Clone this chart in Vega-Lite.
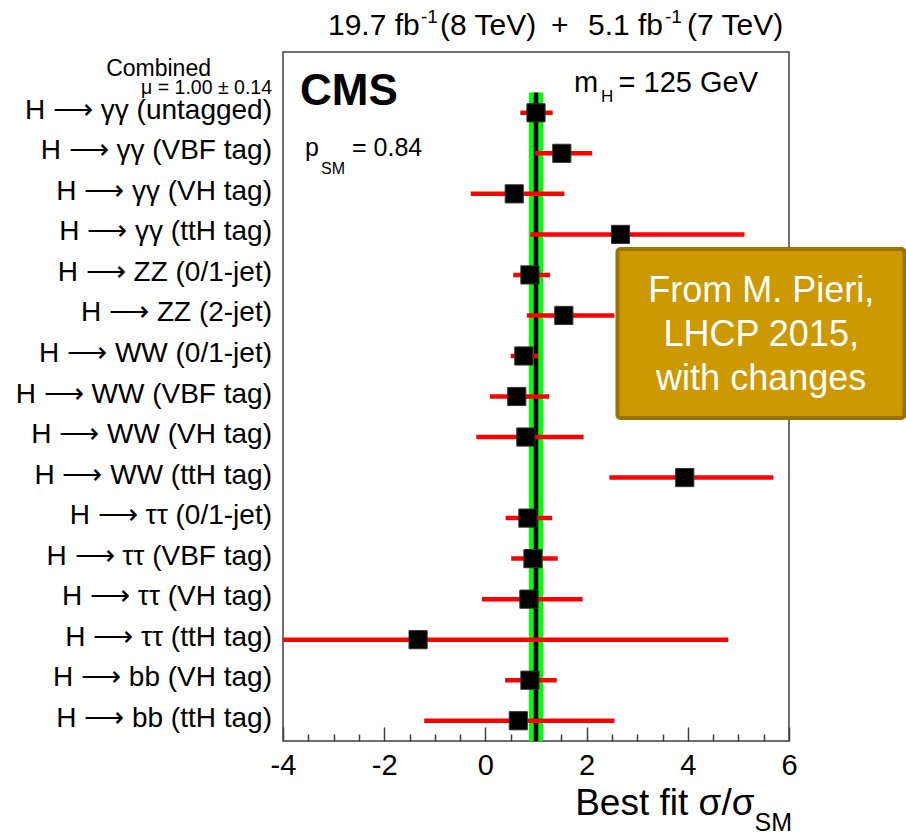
{
  "$schema": "https://vega.github.io/schema/vega-lite/v6.json",
  "width": 506,
  "height": 689,
  "autosize": {"type": "none"},
  "padding": {"left": 283, "top": 52, "right": 117, "bottom": 92},
  "background": "white",
  "config": {
    "font": "Liberation Sans",
    "view": {"stroke": "#404040", "strokeWidth": 1.5},
    "text": {"color": "black", "baseline": "alphabetic"}
  },
  "datasets": {
    "channels": [
      {"channel": "H ⟶ γγ (untagged)", "mu": 1.00, "lo": 0.69, "hi": 1.33},
      {"channel": "H ⟶ γγ (VBF tag)", "mu": 1.51, "lo": 0.98, "hi": 2.11},
      {"channel": "H ⟶ γγ (VH tag)", "mu": 0.57, "lo": -0.29, "hi": 1.56},
      {"channel": "H ⟶ γγ (ttH tag)", "mu": 2.67, "lo": 0.89, "hi": 5.12},
      {"channel": "H ⟶ ZZ (0/1-jet)", "mu": 0.88, "lo": 0.55, "hi": 1.28},
      {"channel": "H ⟶ ZZ (2-jet)", "mu": 1.55, "lo": 0.82, "hi": 2.55},
      {"channel": "H ⟶ WW (0/1-jet)", "mu": 0.76, "lo": 0.50, "hi": 1.04},
      {"channel": "H ⟶ WW (VBF tag)", "mu": 0.62, "lo": 0.09, "hi": 1.26},
      {"channel": "H ⟶ WW (VH tag)", "mu": 0.80, "lo": -0.18, "hi": 1.94},
      {"channel": "H ⟶ WW (ttH tag)", "mu": 3.94, "lo": 2.45, "hi": 5.69},
      {"channel": "H ⟶ ττ (0/1-jet)", "mu": 0.84, "lo": 0.40, "hi": 1.32},
      {"channel": "H ⟶ ττ (VBF tag)", "mu": 0.94, "lo": 0.51, "hi": 1.43},
      {"channel": "H ⟶ ττ (VH tag)", "mu": 0.86, "lo": -0.07, "hi": 1.92},
      {"channel": "H ⟶ ττ (ttH tag)", "mu": -1.33, "lo": -6.8, "hi": 4.80},
      {"channel": "H ⟶ bb (VH tag)", "mu": 0.88, "lo": 0.39, "hi": 1.41},
      {"channel": "H ⟶ bb (ttH tag)", "mu": 0.65, "lo": -1.21, "hi": 2.55}
    ],
    "combined": [
      {"mu": 1.00, "lo": 0.86, "hi": 1.14}
    ]
  },
  "resolve": {"axis": {"x": "independent"}},
  "layer": [
    {
      "data": {"name": "channels"},
      "mark": {"type": "text", "fontSize": 28, "align": "right", "dx": -11, "dy": 6},
      "encoding": {
        "text": {"field": "channel"},
        "x": {"datum": -4, "scale": {"domain": [-4, 6], "nice": false, "zero": false}, "axis": null},
        "y": {
          "field": "channel", "type": "nominal",
          "scale": {
            "type": "band",
            "domain": [" ", "H ⟶ γγ (untagged)", "H ⟶ γγ (VBF tag)", "H ⟶ γγ (VH tag)", "H ⟶ γγ (ttH tag)",
                       "H ⟶ ZZ (0/1-jet)", "H ⟶ ZZ (2-jet)", "H ⟶ WW (0/1-jet)", "H ⟶ WW (VBF tag)",
                       "H ⟶ WW (VH tag)", "H ⟶ WW (ttH tag)", "H ⟶ ττ (0/1-jet)", "H ⟶ ττ (VBF tag)",
                       "H ⟶ ττ (VH tag)", "H ⟶ ττ (ttH tag)", "H ⟶ bb (VH tag)", "H ⟶ bb (ttH tag)"],
            "paddingInner": 0, "paddingOuter": 0
          },
          "axis": null
        }
      }
    },
    {
      "data": {"name": "combined"},
      "mark": {"type": "rect", "color": "#00ff00"},
      "encoding": {
        "x": {"field": "lo", "type": "quantitative", "axis": null},
        "x2": {"field": "hi"},
        "y": {"datum": "H ⟶ γγ (untagged)", "bandPosition": 0, "axis": null},
        "y2": {"datum": "H ⟶ bb (ttH tag)", "bandPosition": 1}
      }
    },
    {
      "data": {"name": "combined"},
      "mark": {"type": "rule", "color": "black", "strokeWidth": 4.5},
      "encoding": {
        "x": {"field": "mu", "type": "quantitative", "axis": null},
        "y": {"datum": "H ⟶ γγ (untagged)", "bandPosition": 0, "axis": null},
        "y2": {"datum": "H ⟶ bb (ttH tag)", "bandPosition": 1}
      }
    },
    {
      "data": {"name": "channels"},
      "mark": {"type": "rule", "color": "#ff0000", "strokeWidth": 4.5, "clip": true},
      "encoding": {
        "x": {
          "field": "lo", "type": "quantitative",
          "axis": {
            "orient": "bottom",
            "values": [-3.5, -3, -2.5, -1.5, -1, -0.5, 0.5, 1, 1.5, 2.5, 3, 3.5, 4.5, 5, 5.5],
            "tickSize": -7, "tickWidth": 1.5, "tickColor": "#404040",
            "labels": false, "domain": false, "grid": false, "title": null
          }
        },
        "x2": {"field": "hi"},
        "y": {"field": "channel", "type": "nominal", "axis": null}
      }
    },
    {
      "data": {"name": "channels"},
      "mark": {"type": "point", "shape": "square", "filled": true, "size": 330, "color": "black", "stroke": "#333333", "strokeWidth": 1, "opacity": 1},
      "encoding": {
        "x": {
          "field": "mu", "type": "quantitative",
          "axis": {
            "orient": "bottom",
            "values": [-4, -2, 0, 2, 4, 6],
            "labelExpr": "replace(datum.label, '−', '-')",
            "tickSize": -14, "tickWidth": 1.5, "tickColor": "#404040",
            "domain": false, "grid": false,
            "labelFontSize": 29, "labelColor": "black", "labelPadding": 24, "labelFlush": false,
            "title": "Best fit σ/σ",
            "titleFontSize": 37, "titleFontWeight": "normal", "titleColor": "black",
            "titleAlign": "right", "titleBaseline": "alphabetic",
            "titleX": 471, "titleY": 73
          }
        },
        "y": {"field": "channel", "type": "nominal", "axis": null}
      }
    },
    {
      "data": {"name": "combined"},
      "mark": {"type": "text", "text": "19.7 fb", "fontSize": 30, "align": "left", "dx": 45, "dy": -17},
      "encoding": {"x": {"datum": -4, "axis": null}, "y": {"datum": " ", "bandPosition": 0, "axis": null}}
    },
    {
      "data": {"name": "combined"},
      "mark": {"type": "text", "text": "-1", "fontSize": 19, "align": "left", "dx": 138, "dy": -29},
      "encoding": {"x": {"datum": -4, "axis": null}, "y": {"datum": " ", "bandPosition": 0, "axis": null}}
    },
    {
      "data": {"name": "combined"},
      "mark": {"type": "text", "text": "(8 TeV)", "fontSize": 30, "align": "left", "dx": 157, "dy": -17},
      "encoding": {"x": {"datum": -4, "axis": null}, "y": {"datum": " ", "bandPosition": 0, "axis": null}}
    },
    {
      "data": {"name": "combined"},
      "mark": {"type": "text", "text": "+", "fontSize": 30, "align": "left", "dx": 268, "dy": -17},
      "encoding": {"x": {"datum": -4, "axis": null}, "y": {"datum": " ", "bandPosition": 0, "axis": null}}
    },
    {
      "data": {"name": "combined"},
      "mark": {"type": "text", "text": "5.1 fb", "fontSize": 30, "align": "left", "dx": 305, "dy": -17},
      "encoding": {"x": {"datum": -4, "axis": null}, "y": {"datum": " ", "bandPosition": 0, "axis": null}}
    },
    {
      "data": {"name": "combined"},
      "mark": {"type": "text", "text": "-1", "fontSize": 19, "align": "left", "dx": 382, "dy": -29},
      "encoding": {"x": {"datum": -4, "axis": null}, "y": {"datum": " ", "bandPosition": 0, "axis": null}}
    },
    {
      "data": {"name": "combined"},
      "mark": {"type": "text", "text": "(7 TeV)", "fontSize": 30, "align": "left", "dx": 404, "dy": -17},
      "encoding": {"x": {"datum": -4, "axis": null}, "y": {"datum": " ", "bandPosition": 0, "axis": null}}
    },
    {
      "data": {"name": "combined"},
      "mark": {"type": "text", "text": "Combined", "fontSize": 23, "align": "right", "dx": -72, "dy": 4},
      "encoding": {"x": {"datum": -4, "axis": null}, "y": {"datum": " ", "axis": null}}
    },
    {
      "data": {"name": "combined"},
      "mark": {"type": "text", "text": "μ = 1.00 ± 0.14", "fontSize": 19.5, "align": "right", "dx": -11, "dy": 22},
      "encoding": {"x": {"datum": -4, "axis": null}, "y": {"datum": " ", "axis": null}}
    },
    {
      "data": {"name": "combined"},
      "mark": {"type": "text", "text": "CMS", "fontSize": 44, "fontWeight": "bold", "align": "left", "dx": 17, "dy": 33},
      "encoding": {"x": {"datum": -4, "axis": null}, "y": {"datum": " ", "axis": null}}
    },
    {
      "data": {"name": "combined"},
      "mark": {"type": "text", "text": "m", "fontSize": 29, "align": "left", "dx": -215, "dy": 20},
      "encoding": {"x": {"datum": 6, "axis": null}, "y": {"datum": " ", "axis": null}}
    },
    {
      "data": {"name": "combined"},
      "mark": {"type": "text", "text": "H", "fontSize": 17, "align": "left", "dx": -188, "dy": 30},
      "encoding": {"x": {"datum": 6, "axis": null}, "y": {"datum": " ", "axis": null}}
    },
    {
      "data": {"name": "combined"},
      "mark": {"type": "text", "text": "= 125 GeV", "fontSize": 29, "align": "right", "dx": -31, "dy": 20},
      "encoding": {"x": {"datum": 6, "axis": null}, "y": {"datum": " ", "axis": null}}
    },
    {
      "data": {"name": "combined"},
      "mark": {"type": "text", "text": "p", "fontSize": 25, "align": "left", "dx": 22, "dy": 84},
      "encoding": {"x": {"datum": -4, "axis": null}, "y": {"datum": " ", "axis": null}}
    },
    {
      "data": {"name": "combined"},
      "mark": {"type": "text", "text": "SM", "fontSize": 16, "align": "left", "dx": 38, "dy": 102},
      "encoding": {"x": {"datum": -4, "axis": null}, "y": {"datum": " ", "axis": null}}
    },
    {
      "data": {"name": "combined"},
      "mark": {"type": "text", "text": "= 0.84", "fontSize": 25, "align": "left", "dx": 69, "dy": 84},
      "encoding": {"x": {"datum": -4, "axis": null}, "y": {"datum": " ", "axis": null}}
    },
    {
      "data": {"name": "combined"},
      "mark": {"type": "rect", "fill": "#cc9900", "stroke": "#9a7300", "strokeWidth": 4, "cornerRadius": 3},
      "encoding": {
        "x": {"datum": 2.61, "axis": null},
        "x2": {"datum": 8.28},
        "y": {"datum": "H ⟶ γγ (ttH tag)", "bandPosition": 0.86, "axis": null},
        "y2": {"datum": "H ⟶ WW (VH tag)", "bandPosition": 0.03}
      }
    },
    {
      "data": {"name": "combined"},
      "mark": {"type": "text", "text": ["From M. Pieri,", "LHCP 2015,", "with changes"], "fontSize": 36, "lineHeight": 44, "align": "center", "dy": 53, "color": "white"},
      "encoding": {
        "x": {"datum": 5.45, "axis": null},
        "y": {"datum": "H ⟶ γγ (ttH tag)", "bandPosition": 0.86, "axis": null}
      }
    },
    {
      "data": {"name": "combined"},
      "mark": {"type": "text", "text": "SM", "fontSize": 25, "align": "right", "dx": 3, "dy": 90},
      "encoding": {"x": {"datum": 6, "axis": null}, "y": {"datum": "H ⟶ bb (ttH tag)", "bandPosition": 1, "axis": null}}
    }
  ]
}
